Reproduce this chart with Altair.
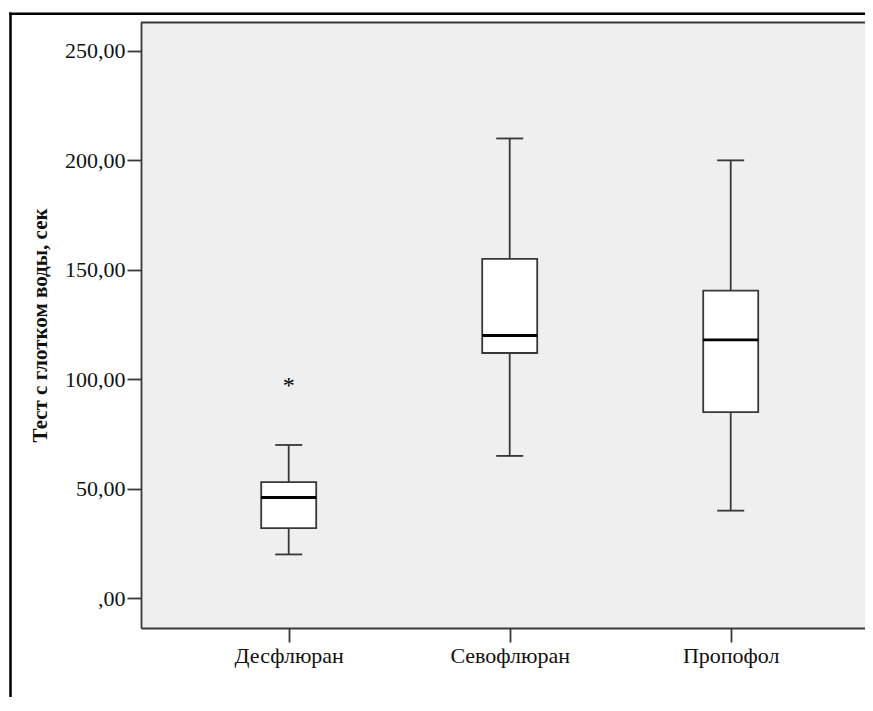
import altair as alt
import pandas as pd

# ---- data ----
categories = ["Десфлюран", "Севофлюран", "Пропофол"]
whisker_low = [20, 65, 40]
q1 = [32, 112, 85]
median = [46, 120, 118]
q3 = [53, 155, 140.5]
whisker_high = [70, 210, 200]
outlier_category = ["Десфлюран"]
outlier_value = [98.6]
y_ticks = [0, 50, 100, 150, 200, 250]
y_title = "Тест с глотком воды, сек"

df = pd.DataFrame({"cat": categories, "lo": whisker_low, "q1": q1,
                   "med": median, "q3": q3, "hi": whisker_high})
out = pd.DataFrame({"cat": outlier_category, "v": outlier_value})

W, H = 724, 606
FONT = "Liberation Serif"
LINE = "#383838"
LW = 1.8

xscale = alt.Scale(type="point", domain=categories, padding=0.638, align=0.5238)
yscale = alt.Scale(domain=[-13.6, 263.2], nice=False, zero=False)

xaxis = alt.Axis(title=None, labelAngle=0, labelFont=FONT, labelFontSize=22,
                 labelColor="#111", tickSize=14, tickColor=LINE, tickWidth=LW,
                 domainColor=LINE, domainWidth=LW, labelPadding=3, grid=False)
yaxis = alt.Axis(values=y_ticks,
                 labelExpr="datum.value == 0 ? ',00' : replace(format(datum.value, '.2f'), '.', ',')",
                 labelFont=FONT, labelFontSize=22, labelColor="#111", labelPadding=2,
                 tickSize=14, tickColor=LINE, tickWidth=LW,
                 domainColor=LINE, domainWidth=LW, grid=False,
                 title=y_title, titleFont=FONT, titleFontSize=21, titleFontWeight="bold",
                 titleColor="#111", titleAngle=270, titleX=-101, titleY=303,
                 titleBaseline="middle", titleAlign="center")

X = alt.X("cat:N", scale=xscale, axis=xaxis)

def Y(field):
    return alt.Y(f"{field}:Q", scale=yscale, axis=yaxis)

one = alt.Data(values=[{}])

frame_left = alt.Chart(one).mark_rule(color="black", strokeWidth=2.5).encode(
    x=alt.value(-130.5), y=alt.value(-9.5), y2=alt.value(H + 69))
frame_top = alt.Chart(one).mark_rule(color="black", strokeWidth=2.5).encode(
    x=alt.value(-131.75), x2=alt.value(W), y=alt.value(-8.3))
plot_top = alt.Chart(one).mark_rule(color=LINE, strokeWidth=LW).encode(
    x=alt.value(0), x2=alt.value(W), y=alt.value(0.5))

base = alt.Chart(df)
whisker = base.mark_rule(color=LINE, strokeWidth=LW).encode(x=X, y=Y("lo"), y2="hi:Q")
box = base.mark_bar(size=55, fill="white", stroke=LINE, strokeWidth=LW, opacity=1).encode(
    x=X, y=Y("q1"), y2="q3:Q")
med = base.mark_tick(size=55, thickness=2.8, color="black", opacity=1).encode(x=X, y=Y("med"))
cap_lo = base.mark_tick(size=27, thickness=LW, color=LINE, opacity=1).encode(x=X, y=Y("lo"))
cap_hi = base.mark_tick(size=27, thickness=LW, color=LINE, opacity=1).encode(x=X, y=Y("hi"))
outlier = alt.Chart(out).mark_text(text="*", font=FONT, fontSize=24, baseline="middle",
                                   dy=4, color="black").encode(x=X, y=Y("v"))

chart = alt.layer(
    whisker, box, med, cap_lo, cap_hi, outlier, plot_top, frame_left, frame_top
).properties(
    width=W, height=H,
    background="white",
    autosize=alt.AutoSizeParams(type="none"),
    padding={"left": 133, "top": 14, "right": 0, "bottom": 69},
).configure_view(fill="#EFEFEF", stroke=None)

chart.save("out.html", embed_options={"renderer": "svg", "actions": False})
